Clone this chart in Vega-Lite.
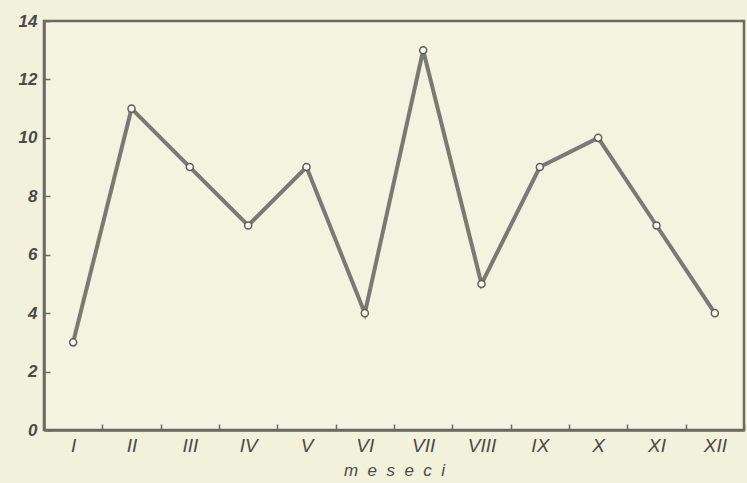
{
  "$schema": "https://vega.github.io/schema/vega-lite/v6.json",
  "width": 700,
  "height": 409,
  "autosize": {"type": "none"},
  "padding": {"left": 44, "top": 21, "right": 3, "bottom": 53},
  "background": "#f2f1dc",
  "config": {
    "view": {"stroke": "#6a6a64", "strokeWidth": 2.5, "fill": "#f4f3e0"},
    "axis": {"grid": false, "domainColor": "#6a6a64", "domainWidth": 2.5, "tickColor": "#6a6a64", "tickWidth": 1.5,
      "labelFont": "Liberation Sans", "labelFontStyle": "italic", "labelFontWeight": "bold", "labelColor": "#4a4a46", "labelFontSize": 17}
  },
  "data": {"values": [
    {"mesec": "I", "v": 3},
    {"mesec": "II", "v": 11},
    {"mesec": "III", "v": 9},
    {"mesec": "IV", "v": 7},
    {"mesec": "V", "v": 9},
    {"mesec": "VI", "v": 4},
    {"mesec": "VII", "v": 13},
    {"mesec": "VIII", "v": 5},
    {"mesec": "IX", "v": 9},
    {"mesec": "X", "v": 10},
    {"mesec": "XI", "v": 7},
    {"mesec": "XII", "v": 4}
  ]},
  "encoding": {
    "x": {"field": "mesec", "type": "ordinal", "sort": null,
      "scale": {"type": "band", "paddingInner": 0, "paddingOuter": 0},
      "axis": {"labelAngle": 0, "tickBand": "extent", "tickSize": -6, "labelPadding": 12, "labelFontWeight": "normal", "labelFontSize": 19,
        "title": "m\u00a0\u00a0e\u00a0\u00a0s\u00a0\u00a0e\u00a0\u00a0c\u00a0\u00a0i", "titleFont": "Liberation Sans", "titleFontStyle": "italic", "titleFontWeight": "normal", "titleFontSize": 17, "titleColor": "#4a4a46", "titlePadding": 7}},
    "y": {"field": "v", "type": "quantitative",
      "scale": {"domain": [0, 14], "nice": false},
      "axis": {"values": [0, 2, 4, 6, 8, 10, 12, 14], "tickSize": -6, "labelPadding": 13, "title": null}}
  },
  "layer": [
    {"mark": {"type": "line", "color": "#7a7a74", "strokeWidth": 4}},
    {"mark": {"type": "point", "filled": true, "fill": "#f8f8ee", "stroke": "#5e5e58", "strokeWidth": 1.5, "size": 50, "opacity": 1}}
  ]
}
